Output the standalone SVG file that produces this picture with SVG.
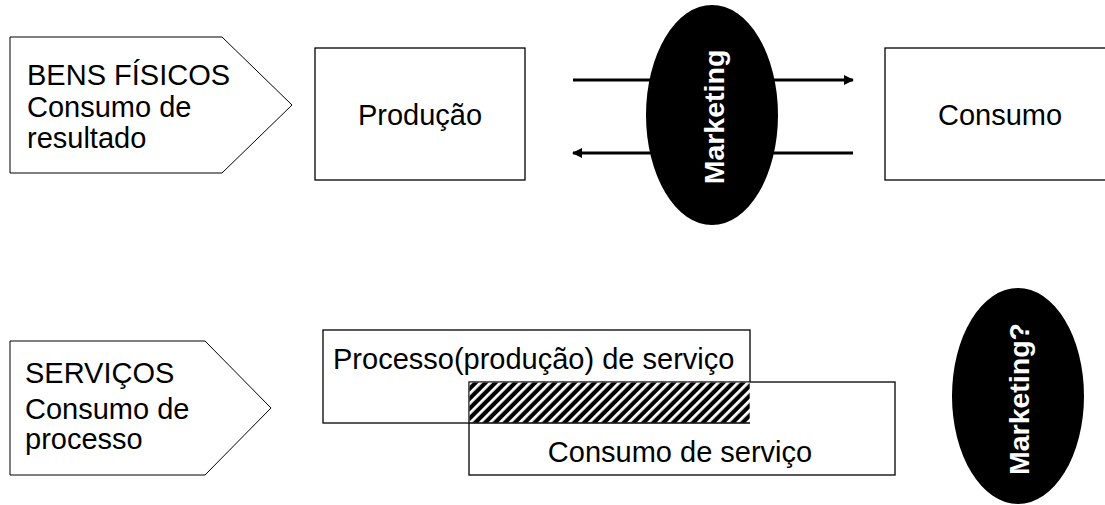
<svg xmlns="http://www.w3.org/2000/svg" width="1105" height="505" viewBox="0 0 1105 505">
<style>
text{font-family:"Liberation Sans",Arial,sans-serif;font-size:29px;fill:#000}
.box{fill:#fff;stroke:#000;stroke-width:1.3}
.pent{fill:#fff;stroke:#000;stroke-width:1}
.mk{fill:#000;stroke:none}
.mkt{fill:#fff;font-weight:bold;font-size:28.5px;text-anchor:middle}
.ctr{text-anchor:middle}
.arrow{stroke:#000;stroke-width:3;fill:none}
</style>
<defs>
<marker id="ah" viewBox="0 0 10 10" refX="9" refY="5" markerWidth="11" markerHeight="10" markerUnits="userSpaceOnUse" orient="auto">
<path d="M0,0 L10,5 L0,10 z" fill="#000"/>
</marker>
<pattern id="hatch" patternUnits="userSpaceOnUse" width="7" height="7" patternTransform="rotate(45)">
<rect width="7" height="7" fill="#000"/>
<rect x="0" y="0" width="2.8" height="7" fill="#fff"/>
</pattern>
</defs>
<g id="bens-fisicos">
<polygon class="pent" points="10,37 222,37 292,105 222,173 10,173"/>
<text x="27" y="85">BENS FÍSICOS</text>
<text x="27" y="117">Consumo de</text>
<text x="27" y="148">resultado</text>
</g>
<g id="producao">
<rect class="box" x="315" y="48" width="210" height="132"/>
<text class="ctr" x="420" y="125">Produção</text>
</g>
<g id="consumo">
<rect class="box" x="885" y="48" width="240" height="132"/>
<text class="ctr" x="1000" y="125">Consumo</text>
</g>
<g id="connectors">
<line class="arrow" x1="573" y1="80" x2="853" y2="80" marker-end="url(#ah)"/>
<line class="arrow" x1="853" y1="153" x2="573" y2="153" marker-end="url(#ah)"/>
</g>
<g id="marketing">
<ellipse class="mk" cx="712" cy="115" rx="66" ry="110"/>
<text class="mkt" transform="translate(724,117) rotate(-90)">Marketing</text>
</g>
<g id="servicos">
<polygon class="pent" points="10,341 205,341 271,408 205,475 10,475"/>
<text x="25" y="383">SERVIÇOS</text>
<text x="25" y="419">Consumo de</text>
<text x="25" y="449">processo</text>
</g>
<g id="processo">
<rect class="box" x="323" y="330" width="427" height="93"/>
<text x="333" y="369">Processo(produção) de serviço</text>
</g>
<g id="consumo-servico">
<rect class="box" x="469" y="382" width="426" height="93"/>
<rect x="469.7" y="382.7" width="280" height="40" fill="url(#hatch)"/>
<line x1="469" y1="423" x2="750" y2="423" stroke="#000" stroke-width="1.3"/>
<text class="ctr" x="680" y="462">Consumo de serviço</text>
</g>
<g id="marketing-q">
<ellipse class="mk" cx="1018" cy="396" rx="66" ry="108"/>
<text class="mkt" transform="translate(1029,399) rotate(-90)">Marketing?</text>
</g>
</svg>
